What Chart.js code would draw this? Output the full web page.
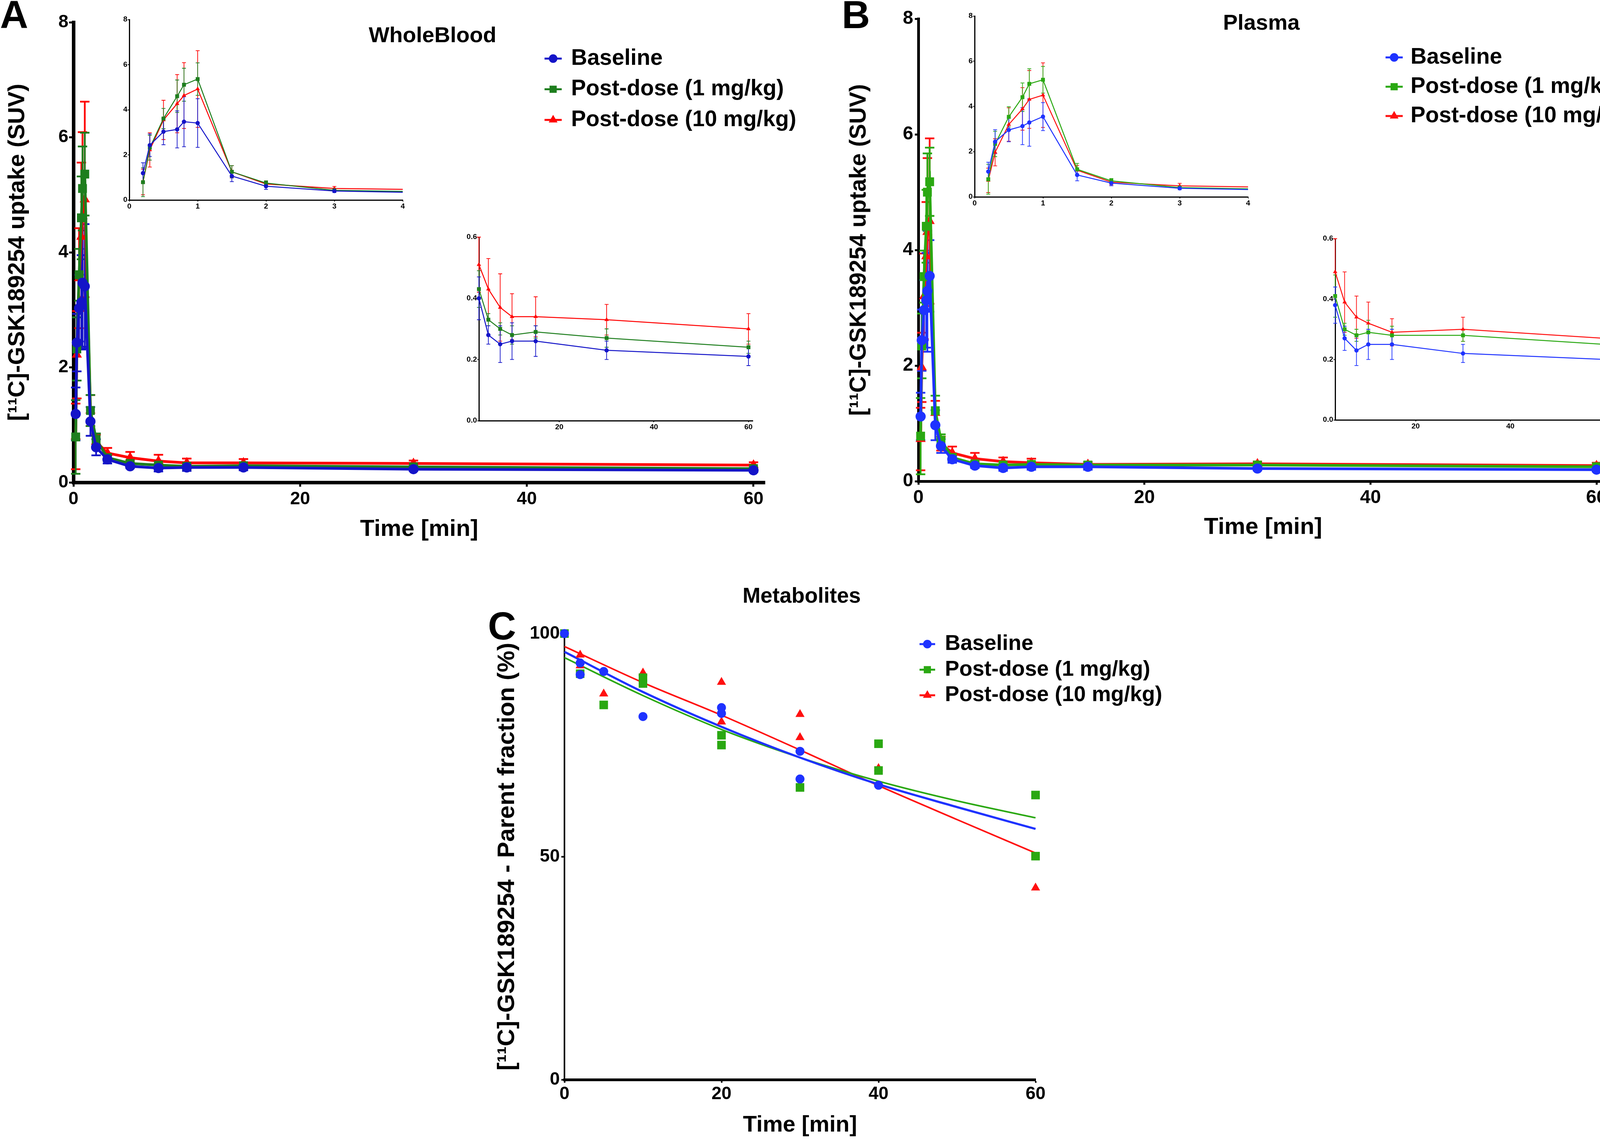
<!DOCTYPE html>
<html lang="en">
<head>
<meta charset="UTF-8">
<title>[11C]-GSK189254 uptake and metabolites</title>
<script src="https://cdn.jsdelivr.net/npm/chart.js"></script>
<style>
    html, body { margin: 0; padding: 0; background: #fff; }
    body { width: 4183px; height: 2916px; position: relative; overflow: hidden;
           font-family: 'Liberation Sans', Arial, Helvetica, sans-serif; }
    .box { position: absolute; }
    .lbl { position: absolute; font-weight: bold; line-height: 1; white-space: nowrap; color: #000; }
</style>
</head>
<body>

<div class="box" style="left:0;top:0;width:2085px;height:1400px"><canvas id="mainA"></canvas></div>
<div class="box" style="left:270px;top:0;width:800px;height:560px"><canvas id="earlyA"></canvas></div>
<div class="box" style="left:1150px;top:570px;width:820px;height:560px"><canvas id="lateA"></canvas></div>

<div class="box" style="left:2090px;top:0;width:2093px;height:1400px"><canvas id="mainB"></canvas></div>
<div class="box" style="left:2430px;top:0;width:800px;height:560px"><canvas id="earlyB"></canvas></div>
<div class="box" style="left:3340px;top:575px;width:843px;height:560px"><canvas id="lateB"></canvas></div>

<div class="box" style="left:1150px;top:1400px;width:1950px;height:1516px"><canvas id="metC"></canvas></div>

<div class="lbl" style="left:0;top:-13px;font-size:100px">A</div>
<div class="lbl" style="left:2155px;top:-13px;font-size:100px">B</div>
<div class="lbl" style="left:1249px;top:1552px;font-size:100px">C</div>
<div class="lbl" style="left:944px;top:61px;font-size:56px">WholeBlood</div>
<div class="lbl" style="left:3131px;top:29px;font-size:56px">Plasma</div>
<div class="lbl" style="left:1901px;top:1497px;font-size:55px">Metabolites</div>

<script>
    const FONT = "'Liberation Sans', Arial, Helvetica, sans-serif";

    // sampling times (min)
    const times = [0.2, 0.3, 0.5, 0.7, 0.8, 1, 1.5, 2, 3, 5, 7.5, 10, 15, 30, 60];
    const seriesNames = ['Baseline', 'Post-dose (1 mg/kg)', 'Post-dose (10 mg/kg)'];

    // A - whole blood, mean and SD (SUV)
    const bloodBaseline   = [1.19, 2.43, 3.03, 3.13, 3.47, 3.41, 1.06, 0.61, 0.40, 0.28, 0.25, 0.26, 0.26, 0.23, 0.21];
    const bloodBaselineSd = [0.46, 0.50, 0.58, 0.82, 1.11, 1.08, 0.25, 0.14, 0.07, 0.03, 0.06, 0.06, 0.05, 0.03, 0.03];
    const bloodDose1      = [0.79, 2.32, 3.61, 4.60, 5.11, 5.36, 1.25, 0.75, 0.43, 0.33, 0.30, 0.28, 0.29, 0.27, 0.24];
    const bloodDose1Sd    = [0.64, 0.55, 0.45, 0.72, 0.73, 0.72, 0.27, 0.10, 0.06, 0.02, 0.02, 0.03, 0.02, 0.03, 0.02];
    const bloodDose10     = [0.80, 2.22, 3.55, 4.27, 4.63, 4.92, 1.25, 0.71, 0.51, 0.43, 0.37, 0.34, 0.34, 0.33, 0.30];
    const bloodDose10Sd   = [0.57, 0.76, 0.87, 1.29, 1.46, 1.70, 0.27, 0.12, 0.09, 0.10, 0.11, 0.075, 0.065, 0.05, 0.05];

    // B - plasma, mean and SD (SUV)
    const plasmaBaseline   = [1.12, 2.44, 2.96, 3.13, 3.29, 3.55, 0.97, 0.61, 0.38, 0.27, 0.23, 0.25, 0.25, 0.22, 0.20];
    const plasmaBaselineSd = [0.41, 0.53, 0.52, 0.82, 1.05, 0.62, 0.26, 0.12, 0.06, 0.04, 0.05, 0.05, 0.05, 0.03, 0.03];
    const plasmaDose1      = [0.78, 2.34, 3.54, 4.41, 5.00, 5.18, 1.22, 0.71, 0.41, 0.30, 0.28, 0.29, 0.28, 0.28, 0.25];
    const plasmaDose1Sd    = [0.66, 0.56, 0.45, 0.63, 0.67, 0.59, 0.26, 0.10, 0.07, 0.02, 0.02, 0.04, 0.03, 0.02, 0.03];
    const plasmaDose10     = [0.73, 1.97, 3.20, 3.89, 4.31, 4.50, 1.18, 0.65, 0.49, 0.39, 0.34, 0.32, 0.29, 0.30, 0.27];
    const plasmaDose10Sd   = [0.54, 0.60, 0.74, 0.94, 1.28, 1.43, 0.21, 0.12, 0.11, 0.10, 0.07, 0.07, 0.045, 0.04, 0.05];

    // C - parent fraction (%), individual samples
    const metTimesBaseline = [0, 2, 2, 5, 10, 20, 20, 30, 30, 40];
    const metBaseline      = [100, 93.4, 90.8, 91.5, 81.4, 83.4, 82.1, 73.6, 67.4, 66.0];
    const metTimesDose1    = [0, 2, 5, 10, 10, 20, 20, 30, 40, 40, 60, 60];
    const metDose1         = [100, 91.0, 84.0, 90.1, 88.8, 77.2, 75.0, 65.5, 75.3, 69.3, 63.8, 50.1];
    const metTimesDose10   = [2, 2, 5, 10, 20, 20, 30, 30, 40, 60];
    const metDose10        = [95.2, 92.8, 86.5, 91.2, 89.1, 80.2, 81.9, 76.7, 69.8, 43.0];
    // fitted curves
    const fitTimes    = [0, 10, 20, 30, 40, 50, 60];
    const fitBaseline = [95.9, 86.9, 79.1, 72.2, 66.2, 61.1, 56.2];
    const fitDose1    = [94.6, 86.1, 78.5, 72.2, 66.9, 62.5, 58.7];
    const fitDose10   = [97.1, 89.0, 81.7, 73.9, 65.9, 58.3, 50.8];

    // tick labels
    const mainXTicks  = [0, 20, 40, 60];
    const mainYTicks  = [0, 2, 4, 6, 8];
    const earlyXTicks = [0, 1, 2, 3, 4];
    const lateXTicks  = [20, 40, 60];
    const lateYTicks  = [0, 0.2, 0.4, 0.6];
    const metYTicks   = [0, 50, 100];

    const colorsA = ['#1414c8', '#1e7e1e', '#ff0000'];
    const colorsB = ['#1e32ff', '#2aa812', '#ff1010'];
    const shapes = ['circle', 'rect', 'triangle'];

    // vertical error bars with caps, drawn under the lines
    const errorBars = {
        id: 'errorBars',
        beforeDatasetsDraw(chart) {
            const ctx = chart.ctx;
            const xs = chart.scales.x, ys = chart.scales.y;
            for (let d = chart.data.datasets.length - 1; d >= 0; d--) {
                const ds = chart.data.datasets[d];
                if (!ds.errors) continue;
                ctx.save();
                ctx.strokeStyle = ds.borderColor;
                ctx.lineWidth = ds.errWidth;
                ds.data.forEach((p, i) => {
                    if (p.x < xs.min || p.x > xs.max) return;
                    const e = ds.errors[i];
                    const px = xs.getPixelForValue(p.x);
                    const top = ys.getPixelForValue(p.y + e);
                    const bot = ys.getPixelForValue(p.y - e);
                    ctx.beginPath();
                    ctx.moveTo(px, top); ctx.lineTo(px, bot);
                    ctx.moveTo(px - ds.capHalf, top); ctx.lineTo(px + ds.capHalf, top);
                    ctx.moveTo(px - ds.capHalf, bot); ctx.lineTo(px + ds.capHalf, bot);
                    ctx.stroke();
                });
                ctx.restore();
            }
        }
    };

    // legend placed inside the plot, Prism style (line + symbol + label)
    const cornerLegend = {
        id: 'cornerLegend',
        afterDraw(chart, args, opts) {
            if (opts.x === undefined) return;
            const ctx = chart.ctx;
            let row = 0;
            chart.data.datasets.forEach(ds => {
                if (!ds.legendText) return;
                const y = opts.y + row * opts.rowH;
                ctx.save();
                ctx.strokeStyle = ds.borderColor;
                ctx.fillStyle = ds.borderColor;
                ctx.lineWidth = opts.lineW;
                ctx.beginPath();
                ctx.moveTo(opts.x - opts.lineHalf, y);
                ctx.lineTo(opts.x + opts.lineHalf, y);
                ctx.stroke();
                Chart.helpers.drawPoint(ctx, {pointStyle: ds.pointStyle, rotation: 0,
                    radius: opts.r[ds.pointStyle], borderWidth: 0}, opts.x, y);
                ctx.fillStyle = '#000';
                ctx.font = 'bold ' + opts.size + 'px ' + FONT;
                ctx.textBaseline = 'middle';
                ctx.textAlign = 'left';
                ctx.fillText(ds.legendText, opts.textX, y);
                ctx.restore();
                row++;
            });
        }
    };

    function axis(o) {
        return {
            type: 'linear', min: o.min, max: o.max,
            border: {display: true, color: '#000', width: o.bw},
            grid: {drawOnChartArea: false, drawTicks: true, tickLength: o.tl, tickWidth: o.tw,
                   tickColor: '#000', color: '#000'},
            ticks: {color: '#000', padding: o.pad, autoSkip: false, maxRotation: 0, minRotation: 0,
                    font: {family: FONT, weight: 'bold', size: o.fs},
                    callback: o.fmt || (v => String(v))},
            afterBuildTicks: s => { s.ticks = o.ticks.map(v => ({value: v})); },
            afterFit: s => {
                if (o.width !== undefined) s.width = o.width;
                if (o.height !== undefined) s.height = o.height;
            },
            title: o.title ? {display: true, text: o.title, color: '#000',
                              font: {family: FONT, weight: 'bold', size: o.titleSize},
                              padding: o.titlePad} : {display: false}
        };
    }

    function kineticSets(groups, st, from, to) {
        return groups.map((g, k) => ({
            label: seriesNames[k],
            legendText: st.legend ? seriesNames[k] : undefined,
            data: times.slice(from, to).map((t, i) => ({x: t, y: g.mean[from + i]})),
            errors: g.sd.slice(from, to),
            borderColor: g.color, backgroundColor: g.color,
            pointBackgroundColor: g.color, pointBorderColor: g.color,
            pointStyle: shapes[k], pointRadius: st.r[shapes[k]], pointBorderWidth: 0,
            borderWidth: st.lw, errWidth: st.ew, capHalf: st.cap,
            clip: st.clip, tension: 0
        }));
    }

    function makeChart(id, datasets, x, y, padding, legend) {
        return new Chart(document.getElementById(id), {
            type: 'line',
            data: {datasets: datasets},
            options: {
                responsive: true, maintainAspectRatio: false, animation: false,
                devicePixelRatio: 1,
                layout: {padding: padding},
                plugins: {legend: {display: false}, tooltip: {enabled: false},
                          cornerLegend: legend || {}},
                scales: {x: x, y: y}
            },
            plugins: [errorBars, cornerLegend]
        });
    }

    const groupsA = [
        {mean: bloodBaseline, sd: bloodBaselineSd, color: colorsA[0]},
        {mean: bloodDose1, sd: bloodDose1Sd, color: colorsA[1]},
        {mean: bloodDose10, sd: bloodDose10Sd, color: colorsA[2]}
    ];
    const groupsB = [
        {mean: plasmaBaseline, sd: plasmaBaselineSd, color: colorsB[0]},
        {mean: plasmaDose1, sd: plasmaDose1Sd, color: colorsB[1]},
        {mean: plasmaDose10, sd: plasmaDose10Sd, color: colorsB[2]}
    ];

    const mainStyle  = {legend: true, r: {circle: 13, rect: 16, triangle: 15}, lw: 7, ew: 4.5, cap: 12, clip: false};
    const earlyStyle = {legend: false, r: {circle: 5.5, rect: 7, triangle: 6.5}, lw: 2.5, ew: 1.8, cap: 5,
                        clip: {left: false, top: false, right: 0, bottom: false}};
    const lateStyle  = {legend: false, r: {circle: 5.5, rect: 7, triangle: 6.5}, lw: 2.5, ew: 1.8, cap: 5, clip: false};
    const legendR = {circle: 11, rect: 13, triangle: 13};
    const yTitle = '[\u00B9\u00B9C]-GSK189254 uptake (SUV)';

    // ---- panel A ----
    makeChart('mainA', kineticSets(groupsA, mainStyle, 0, 15),
        axis({min: 0, max: 61, ticks: mainXTicks, bw: 9, tl: 11, tw: 5, pad: 5, fs: 46, height: 165,
              title: 'Time [min]', titleSize: 60, titlePad: {top: 0, bottom: 9}}),
        axis({min: 0, max: 8, ticks: mainYTicks, bw: 9, tl: 11, tw: 5, pad: 2, fs: 46, width: 188,
              title: yTitle, titleSize: 60, titlePad: {top: 9, bottom: 0}}),
        {left: 0, top: 57, right: 127, bottom: 0},
        {x: 1416, textX: 1462, y: 150, rowH: 78.5, size: 57, lineHalf: 22, lineW: 5, r: legendR});

    makeChart('earlyA', kineticSets(groupsA, earlyStyle, 0, 10),
        axis({min: 0, max: 4, ticks: earlyXTicks, bw: 3, tl: 4, tw: 2, pad: 1, fs: 19, height: 48}),
        axis({min: 0, max: 8, ticks: mainYTicks, bw: 3, tl: 4, tw: 2, pad: 1, fs: 19, width: 61}),
        {left: 0, top: 50, right: 39, bottom: 0});

    makeChart('lateA', kineticSets(groupsA, lateStyle, 8, 15),
        axis({min: 3, max: 60.9, ticks: lateXTicks, bw: 3, tl: 4, tw: 2, pad: 1, fs: 19, height: 53}),
        axis({min: 0, max: 0.6, ticks: lateYTicks, bw: 3, tl: 4, tw: 2, pad: 1, fs: 19, width: 76,
              fmt: v => v.toFixed(1)}),
        {left: 0, top: 37, right: 43, bottom: 0});

    // ---- panel B ----
    makeChart('mainB', kineticSets(groupsB, mainStyle, 0, 15),
        axis({min: 0, max: 61, ticks: mainXTicks, bw: 7, tl: 9, tw: 5, pad: 5, fs: 48, height: 168,
              title: 'Time [min]', titleSize: 60, titlePad: {top: 0, bottom: 14}}),
        axis({min: 0, max: 8, ticks: mainYTicks, bw: 7, tl: 9, tw: 5, pad: 4, fs: 48, width: 261,
              title: yTitle, titleSize: 59, titlePad: {top: 74, bottom: 0}}),
        {left: 0, top: 48, right: 67, bottom: 0},
        {x: 1479, textX: 1521, y: 147, rowH: 75, size: 57, lineHalf: 22, lineW: 5, r: legendR});

    makeChart('earlyB', kineticSets(groupsB, earlyStyle, 0, 10),
        axis({min: 0, max: 4, ticks: earlyXTicks, bw: 3, tl: 4, tw: 2, pad: 1, fs: 19, height: 56}),
        axis({min: 0, max: 8, ticks: mainYTicks, bw: 3, tl: 4, tw: 2, pad: 1, fs: 19, width: 65}),
        {left: 0, top: 41, right: 35, bottom: 0});

    makeChart('lateB', kineticSets(groupsB, lateStyle, 8, 15),
        axis({min: 3, max: 61, ticks: lateXTicks, bw: 3, tl: 4, tw: 2, pad: 1, fs: 19, height: 60}),
        axis({min: 0, max: 0.6, ticks: lateYTicks, bw: 3, tl: 4, tw: 2, pad: 1, fs: 19, width: 78,
              fmt: v => v.toFixed(1)}),
        {left: 0, top: 36, right: 62, bottom: 0});

    // ---- panel C ----
    function pts(xs, ys) { return xs.map((t, i) => ({x: t, y: ys[i]})); }
    const metPoints = [
        [metTimesBaseline, metBaseline, 'circle', 11.5],
        [metTimesDose1, metDose1, 'rect', 15.5],
        [metTimesDose10, metDose10, 'triangle', 13.5]
    ].map((m, k) => ({
        label: seriesNames[k], legendText: seriesNames[k],
        data: pts(m[0], m[1]), showLine: false,
        borderColor: colorsB[k], backgroundColor: colorsB[k],
        pointBackgroundColor: colorsB[k], pointBorderColor: colorsB[k],
        pointStyle: m[2], pointRadius: m[3], pointBorderWidth: 0, clip: false
    }));
    const metFits = [fitBaseline, fitDose1, fitDose10].map((f, k) => ({
        label: seriesNames[k] + ' fit',
        data: pts(fitTimes, f),
        borderColor: colorsB[k], borderWidth: k === 0 ? 5.5 : 4,
        pointRadius: 0, cubicInterpolationMode: 'monotone', clip: false
    }));

    makeChart('metC', metPoints.concat(metFits),
        axis({min: 0, max: 60, ticks: mainXTicks, bw: 7, tl: 8, tw: 4, pad: 2, fs: 46, height: 152,
              title: 'Time [min]', titleSize: 58, titlePad: {top: 0, bottom: 0}}),
        axis({min: 0, max: 100, ticks: metYTicks, bw: 4, tl: 8, tw: 4, pad: 4, fs: 46, width: 295,
              title: '[\u00B9\u00B9C]-GSK189254 - Parent fraction (%)', titleSize: 62,
              titlePad: {top: 112, bottom: 0}}),
        {left: 0, top: 222, right: 449, bottom: 0},
        {x: 1224, textX: 1269, y: 249, rowH: 65.5, size: 55, lineHalf: 20, lineW: 5, r: legendR});
</script>
</body>
</html>
